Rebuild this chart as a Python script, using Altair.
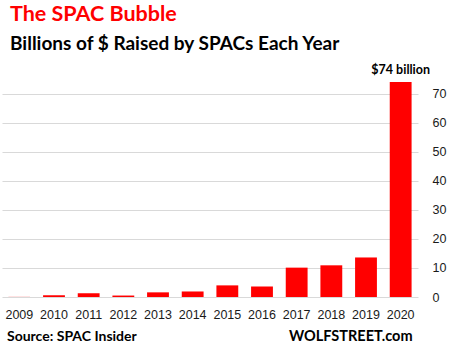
import altair as alt
import pandas as pd

years = ["2009", "2010", "2011", "2012", "2013", "2014", "2015", "2016", "2017", "2018", "2019", "2020"]
raised = [0.04, 0.6, 1.3, 0.5, 1.6, 1.9, 4.0, 3.6, 10.1, 10.9, 13.6, 74.0]
y_ticks = [0, 10, 20, 30, 40, 50, 60, 70]
top_label = "$74 billion"
title_text = "The SPAC Bubble"
subtitle_text = "Billions of $ Raised by SPACs Each Year"
source_text = "Source: SPAC Insider"
brand_text = "WOLFSTREET.com"

df = pd.DataFrame({"year": years, "value": raised})
df["label"] = ["" for _ in years]
df.loc[df["year"] == "2020", "label"] = top_label

x_scale = alt.Scale(paddingInner=0.37, paddingOuter=0.185)
y_scale = alt.Scale(domain=[0, 75], nice=False)

bars = alt.Chart(df).mark_bar(color="#ff0000").encode(
    x=alt.X("year:N", sort=years, scale=x_scale,
            axis=alt.Axis(title=None, labelAngle=0, domain=False, ticks=False,
                          labelPadding=11, labelFont="Liberation Sans", labelFontSize=12.5,
                          labelColor="#1a1a1a", grid=False)),
    y=alt.Y("value:Q", scale=y_scale,
            axis=alt.Axis(title=None, orient="right", values=y_ticks, domain=False, ticks=False,
                          labelOverlap=False,
                          labelPadding=14, labelFont="Liberation Sans", labelFontSize=12.5,
                          labelColor="#1a1a1a", grid=True, gridColor="#d9d9d9", gridWidth=1)),
)

label = alt.Chart(df[df["label"] != ""]).mark_text(
    font="Lato", fontWeight="bold", fontSize=12.5, baseline="bottom", dy=-5, color="#000000"
).encode(x=alt.X("year:N", sort=years, scale=x_scale, axis=None),
         y=alt.Y("value:Q", scale=y_scale, axis=None), text="label:N")

notes = pd.DataFrame({"t": [source_text], "b": [brand_text]})
src = alt.Chart(notes).mark_text(
    font="Lato", fontWeight="bold", fontSize=14, align="left", baseline="middle", color="#000000"
).encode(x=alt.value(5), y=alt.value(40 + 218), text="t:N")
brand = alt.Chart(notes).mark_text(
    font="Lato", fontWeight="bold", fontSize=14.5, align="left", baseline="middle", color="#000000"
).encode(x=alt.value(287), y=alt.value(40 + 218), text="b:N")

chart = alt.layer(bars, label, src, brand).resolve_axis(
    x="independent", y="independent"
).properties(
    width=416, height=218,
    autosize=alt.AutoSizeParams(type="none"),
    padding={"left": 2, "top": 79, "right": 33, "bottom": 56},
    title=alt.Title(text=title_text, subtitle=subtitle_text, anchor="start", frame="group",
                    color="#ff0000", font="Lato", fontSize=21.5, fontWeight="bold",
                    subtitleColor="#000000", subtitleFont="Lato", subtitleFontSize=19,
                    subtitleFontWeight="bold", subtitlePadding=9, offset=10, dx=8),
).configure_view(stroke=None)

chart.save("out.html", embed_options={"renderer": "svg", "actions": False})
